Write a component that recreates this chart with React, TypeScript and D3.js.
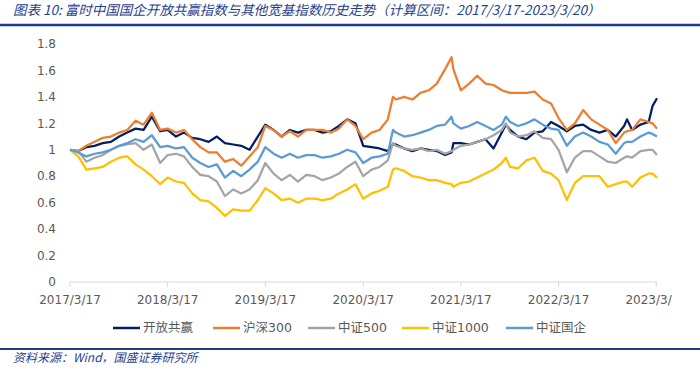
import React from "react";
import * as d3 from "d3";

// sample dates (roughly monthly, a few extra points at turning points)
const dates = [
  "2017-03-17", "2017-04-17", "2017-05-17", "2017-06-17", "2017-07-17", "2017-08-17",
  "2017-09-17", "2017-10-17", "2017-11-17", "2017-12-17", "2018-01-17", "2018-02-17",
  "2018-03-17", "2018-04-17", "2018-05-17", "2018-06-17", "2018-07-17", "2018-08-17",
  "2018-09-17", "2018-10-17", "2018-11-17", "2018-12-17", "2019-01-17", "2019-02-17",
  "2019-03-17", "2019-04-17", "2019-05-17", "2019-06-17", "2019-07-17", "2019-08-17",
  "2019-09-17", "2019-10-17", "2019-11-17", "2019-12-17", "2020-01-17", "2020-02-17",
  "2020-03-17", "2020-04-17", "2020-05-17", "2020-06-17", "2020-07-06", "2020-07-17",
  "2020-08-17", "2020-09-17", "2020-10-17", "2020-11-17", "2020-12-17", "2021-01-17",
  "2021-02-10", "2021-02-17", "2021-03-17", "2021-04-17", "2021-05-17", "2021-06-17",
  "2021-07-17", "2021-08-17", "2021-09-01", "2021-09-17", "2021-10-17", "2021-11-17",
  "2021-12-17", "2022-01-17", "2022-02-17", "2022-03-17", "2022-04-17", "2022-05-17",
  "2022-06-17", "2022-07-17", "2022-08-17", "2022-09-17", "2022-10-17", "2022-11-17",
  "2022-11-28", "2022-12-17", "2023-01-17", "2023-02-17", "2023-03-03", "2023-03-20",
];

const kaifang = [
  1.0, 0.99, 1.02, 1.03, 1.05, 1.06, 1.1, 1.13, 1.16, 1.15, 1.25, 1.14,
  1.15, 1.1, 1.13, 1.09, 1.08, 1.06, 1.1, 1.05, 1.04, 1.03, 1.0, 1.1,
  1.19, 1.15, 1.1, 1.15, 1.13, 1.15, 1.15, 1.13, 1.14, 1.18, 1.23, 1.2,
  1.03, 1.02, 1.01, 0.99, 1.04, 1.04, 1.01, 0.99, 1.01, 1.0, 0.99, 0.96,
  0.98, 1.05, 1.05, 1.04, 1.06, 1.08, 1.01, 1.13, 1.19, 1.15, 1.1, 1.08,
  1.13, 1.14, 1.21, 1.18, 1.14, 1.18, 1.19, 1.15, 1.13, 1.15, 1.1, 1.18,
  1.23, 1.15, 1.19, 1.21, 1.33, 1.39,
];

const hs300 = [
  1.0, 0.99, 1.03, 1.06, 1.09, 1.1, 1.13, 1.15, 1.22, 1.19, 1.28, 1.15,
  1.16, 1.13, 1.15, 1.08, 1.02, 0.98, 0.98, 0.91, 0.93, 0.88, 0.95, 1.02,
  1.18, 1.15, 1.1, 1.14, 1.1, 1.15, 1.15, 1.15, 1.13, 1.16, 1.23, 1.18,
  1.08, 1.13, 1.15, 1.23, 1.4, 1.38, 1.4, 1.38, 1.43, 1.45, 1.5, 1.61,
  1.7, 1.61, 1.45, 1.5, 1.56, 1.5, 1.49, 1.45, 1.44, 1.43, 1.43, 1.43,
  1.44, 1.38, 1.35, 1.24, 1.15, 1.2, 1.3, 1.23, 1.19, 1.15, 1.05, 1.13,
  1.14, 1.15, 1.23, 1.21, 1.2, 1.16,
];

const zz500 = [
  1.0, 0.99, 0.91, 0.94, 0.96, 1.0, 1.03, 1.04, 1.05, 1.0, 1.04, 0.9,
  0.96, 0.97, 0.95, 0.87, 0.81, 0.8, 0.76, 0.65, 0.7, 0.67, 0.7, 0.77,
  0.9, 0.82, 0.77, 0.81, 0.76, 0.81, 0.8, 0.77, 0.79, 0.82, 0.87, 0.91,
  0.8, 0.85, 0.87, 0.92, 1.05, 1.03, 1.01, 1.0, 1.01, 0.99, 1.0, 0.97,
  0.99, 1.0, 1.03, 1.04, 1.06, 1.08, 1.11, 1.15, 1.2, 1.13, 1.1, 1.11,
  1.14, 1.09, 1.08, 1.0, 0.83, 0.94, 0.99, 0.99, 0.95, 0.91, 0.9, 0.94,
  0.95, 0.94, 0.99, 1.0, 1.0, 0.96,
];

const zz1000 = [
  1.0, 0.95, 0.85, 0.86, 0.87, 0.91, 0.94, 0.95, 0.89, 0.85, 0.8, 0.74,
  0.79, 0.76, 0.75, 0.67, 0.62, 0.61, 0.56, 0.5, 0.55, 0.54, 0.54, 0.62,
  0.71, 0.67, 0.62, 0.63, 0.6, 0.63, 0.63, 0.62, 0.63, 0.67, 0.7, 0.74,
  0.63, 0.67, 0.69, 0.72, 0.85, 0.86, 0.84, 0.8, 0.79, 0.77, 0.77, 0.75,
  0.74, 0.72, 0.75, 0.76, 0.79, 0.82, 0.85, 0.9, 0.94, 0.87, 0.86, 0.92,
  0.94, 0.84, 0.82, 0.77, 0.62, 0.75, 0.8, 0.8, 0.8, 0.72, 0.74, 0.76,
  0.76, 0.72, 0.79, 0.82, 0.82, 0.79,
];

const guoqi = [
  1.0, 0.98, 0.95, 0.97, 0.98, 1.0, 1.03, 1.05, 1.08, 1.06, 1.11, 1.02,
  1.03, 1.01, 1.02, 0.94, 0.9, 0.87, 0.89, 0.79, 0.84, 0.8, 0.85, 0.91,
  1.02, 0.97, 0.94, 0.97, 0.94, 0.96, 0.96, 0.94, 0.95, 0.97, 1.0, 0.98,
  0.9, 0.94, 0.95, 0.97, 1.15, 1.13, 1.1, 1.11, 1.13, 1.15, 1.18, 1.19,
  1.25, 1.2, 1.16, 1.18, 1.21, 1.18, 1.15, 1.19, 1.25, 1.21, 1.18, 1.2,
  1.23, 1.19, 1.16, 1.15, 1.03, 1.1, 1.13, 1.1, 1.06, 1.04, 0.97, 1.05,
  1.06, 1.06, 1.1, 1.13, 1.12, 1.1,
];

const seriesNames = ["开放共赢", "沪深300", "中证500", "中证1000", "中证国企"];
const seriesValues = [kaifang, hs300, zz500, zz1000, guoqi];
const seriesColors = ["#002060", "#ED7D31", "#A5A5A5", "#FFC000", "#5B9BD5"];

const yTicks = [0, 0.2, 0.4, 0.6, 0.8, 1, 1.2, 1.4, 1.6, 1.8];
const xTickDates = ["2017-03-17", "2018-03-17", "2019-03-17", "2020-03-17", "2021-03-17", "2022-03-17", "2023-03-17"];

const W = 700;
const H = 372;
const left = 70;
const right = 657;
const top = 44;
const bottom = 282;

const titleText = "图表 10: 富时中国国企开放共赢指数与其他宽基指数历史走势（计算区间：2017/3/17-2023/3/20）";
const sourceText = "资料来源：Wind，国盛证券研究所";

const parse = d3.timeParse("%Y-%m-%d");
const fmt = d3.timeFormat("%Y/%-m/%-d");

export default function App() {
  const dateObjs = dates.map((d) => parse(d) as Date);
  const x = d3
    .scaleTime()
    .domain([dateObjs[0], dateObjs[dateObjs.length - 1]])
    .range([left, right]);
  const y = d3.scaleLinear().domain([0, 1.8]).range([bottom, top]);

  const line = d3
    .line<number>()
    .x((_, i) => x(dateObjs[i]))
    .y((v) => y(v));

  const axisFont = "'DejaVu Sans', 'Noto Sans CJK SC', sans-serif";
  const cjkFont = "'Noto Sans CJK SC', 'DejaVu Sans', sans-serif";
  const legendX = [113, 213, 308, 402, 506];

  return (
    <svg width={W} height={H} style={{ position: "absolute", left: 0, top: 0, background: "#fff" }}>
      <defs>
        <clipPath id="xlab">
          <rect x={0} y={0} width={672} height={H} />
        </clipPath>
      </defs>

      {/* title */}
      <text x={13} y={15} fontSize={13.5} fontStyle="italic" fill="#1F3F8F" fontFamily={cjkFont}>
        {titleText}
      </text>
      <line x1={0} x2={W} y1={25} y2={25} stroke="#1F3C88" strokeWidth={2.5} />

      {/* y axis labels */}
      {yTicks.map((t) => (
        <text key={t} x={56} y={y(t)} dy="0.35em" textAnchor="end" fontSize={12} fill="#595959" fontFamily={axisFont}>
          {d3.format("~g")(t)}
        </text>
      ))}

      {/* x axis */}
      <line x1={left} x2={right} y1={bottom} y2={bottom} stroke="#D9D9D9" strokeWidth={1} />
      <g clipPath="url(#xlab)">
        {xTickDates.map((d) => {
          const px = x(parse(d) as Date);
          return (
            <g key={d}>
              <line x1={px} x2={px} y1={bottom} y2={bottom + 5} stroke="#D9D9D9" />
              <text x={px} y={300} dy="0.35em" textAnchor="middle" fontSize={12} fill="#595959" fontFamily={axisFont}>
                {fmt(parse(d) as Date)}
              </text>
            </g>
          );
        })}
      </g>

      {/* series */}
      {seriesValues.map((vals, i) => (
        <path key={i} d={line(vals) || ""} fill="none" stroke={seriesColors[i]} strokeWidth={2.25} strokeLinejoin="round" />
      ))}

      {/* legend */}
      {seriesNames.map((n, i) => (
        <g key={n}>
          <line x1={legendX[i]} x2={legendX[i] + 27} y1={328} y2={328} stroke={seriesColors[i]} strokeWidth={2.5} />
          <text x={legendX[i] + 30} y={328} dy="0.35em" fontSize={12.5} fill="#595959" fontFamily={axisFont}>
            {n}
          </text>
        </g>
      ))}

      {/* source */}
      <line x1={0} x2={W} y1={349} y2={349} stroke="#1F3C88" strokeWidth={2} />
      <text x={13} y={362} fontSize={12} fontStyle="italic" fill="#1F3F8F" fontFamily={cjkFont}>
        {sourceText}
      </text>
    </svg>
  );
}
